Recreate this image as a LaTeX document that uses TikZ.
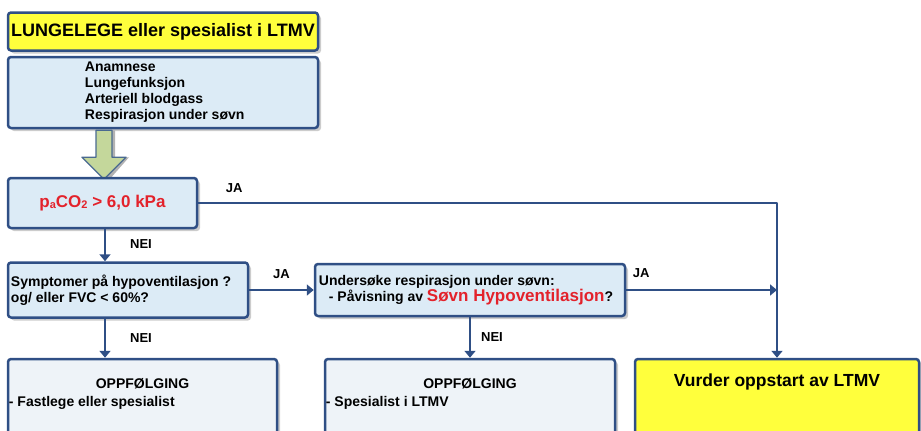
\documentclass[tikz,border=0pt]{standalone}
\usepackage{fontspec}
\setmainfont{Liberation Sans}
\usetikzlibrary{calc}
\usetikzlibrary{shadows}
\usetikzlibrary{arrows.meta}

\definecolor{boxblue}{HTML}{2F4F85}
\definecolor{lightblue}{HTML}{DCEBF6}
\definecolor{paleblue}{HTML}{EEF3F8}
\definecolor{lungyellow}{HTML}{FFFF3C}
\definecolor{alarmred}{HTML}{E3222B}
\definecolor{arrowgreen}{HTML}{C4D79B}
\definecolor{arrowedge}{HTML}{4A6A90}

\tikzset{
  box/.style = {draw = boxblue, line width = 2.5pt, rounded corners = 3pt,
    inner sep = 0pt, font = \bfseries,
    drop shadow = {shadow xshift = 3pt, shadow yshift = -3pt,
      fill = black!40}},
  flow/.style = {draw = boxblue, line width = 2.3pt,
    -{Triangle[length = 7pt, width = 11pt]}},
  lbl/.style = {font = \bfseries\fontsize{13}{13}\selectfont, inner sep = 0pt},
  txt/.style = {font = \bfseries\fontsize{14}{16}\selectfont, inner sep = 0pt,
    align = left}
}

\begin{document}
\begin{tikzpicture}[x = 1pt, y = -1pt, line join = round]
  \useasboundingbox (0, 0) rectangle (921, 431);
  \clip (0, 0) rectangle (921, 431);

  % upper blocks
  \node[box, fill = lungyellow, minimum width = 310, minimum height = 38]
  (lege) at (163, 31.5) {\fontsize{18}{18}\selectfont LUNGELEGE eller
    spesialist i LTMV};
  \node[box, fill = lightblue, minimum width = 310, minimum height = 71]
  (utred) at (163, 92.5) {};
  \node[txt, anchor = west] (utredtxt) at ($(utred.west) + (78, 0)$)
  {Anamnese\\Lungefunksjon\\Arteriell blodgass\\Respirasjon under søvn};

  % green block arrow
  \coordinate (g0) at ($(utred.south) + (-59, 1)$);
  \fill[black!30] ($(g0) + (-5, 0)$) -- +(16, 0) -- +(16, 27) -- +(30, 27)
  -- +(8, 52) -- +(-14, 27) -- +(0, 27) -- cycle;
  \draw[arrowedge, fill = arrowgreen, line width = 1.4pt] ($(g0) + (-8, 0)$)
  -- +(16, 0) -- +(16, 27) -- +(30, 27) -- +(8, 49) -- +(-14, 27)
  -- +(0, 27) -- cycle;

  % decision blocks
  \node[box, fill = lightblue, minimum width = 189, minimum height = 50]
  (pco) at (102.5, 203) {\color{alarmred}\fontsize{17}{17}\selectfont
    p\raisebox{-0.1ex}{\fontsize{11}{11}\selectfont a}CO\raisebox{-0.1ex}{\fontsize{11}{11}\selectfont
      2} > 6,0 kPa};
  \node[box, fill = lightblue, minimum width = 240, minimum height = 55]
  (symp) at (128, 290) {};
  \node[txt, anchor = west] (symptxt) at ($(symp.west) + (4, 0)$)
  {Symptomer på hypoventilasjon ?\\og/ eller FVC < 60\%?};
  \node[box, fill = lightblue, minimum width = 310, minimum height = 52]
  (sovn) at (470, 290) {};
  \node[txt, anchor = west] (sovntxt) at ($(sovn.west) + (5, 0)$)
  {Undersøke respirasjon under søvn:\\
    \hspace*{10pt}- Påvisning av {\color{alarmred}\fontsize{17}{16}\selectfont
      Søvn Hypoventilasjon}?};

  % result blocks
  \node[box, fill = paleblue, minimum width = 269, minimum height = 86]
  (opp1) at (142.5, 402) {};
  \node[txt, anchor = base] (opp1a) at ($(opp1.north) + (0, 31)$)
  {OPPFØLGING};
  \node[txt, anchor = base west] (opp1b) at ($(opp1.north west) + (2, 49)$)
  {- Fastlege eller spesialist};
  \node[box, fill = paleblue, minimum width = 290, minimum height = 86]
  (opp2) at (470, 402) {};
  \node[txt, anchor = base] (opp2a) at ($(opp2.north) + (0, 31)$)
  {OPPFØLGING};
  \node[txt, anchor = base west] (opp2b) at ($(opp2.north west) + (2, 49)$)
  {- Spesialist i LTMV};
  \node[box, fill = lungyellow, minimum width = 284, minimum height = 86]
  (ltmv) at (777, 402) {};
  \node[txt, anchor = base] (ltmvtxt) at ($(ltmv.north) + (0, 29)$)
  {\fontsize{17.5}{17.5}\selectfont Vurder oppstart av LTMV};

  % connectors
  \draw[flow] (pco.east) -| (ltmv.north);
  \node[lbl] (ja1) at ($(pco.east) + (36, -15)$) {JA};
  \coordinate (nei) at ($(pco.south) + (2.5, 0)$);
  \draw[flow] (nei) -- (nei |- symp.north)
  node[lbl, pos = .45, right = 24pt] (nei1) {NEI};
  \draw[flow] (nei |- symp.south) -- (nei |- opp1.north)
  node[lbl, pos = .5, right = 24pt] (nei2) {NEI};
  \draw[flow] (symp.east) -- (sovn.west)
  node[lbl, pos = .5, above = 10pt] (ja2) {JA};
  \draw[flow] (sovn.east) -- (ltmv.north |- sovn.east);
  \node[lbl] (ja3) at ($(sovn.east) + (15, -17)$) {JA};
  \draw[flow] (sovn.south) -- (opp2.north)
  node[lbl, pos = .5, right = 10pt] (nei3) {NEI};
\end{tikzpicture}
\end{document}
